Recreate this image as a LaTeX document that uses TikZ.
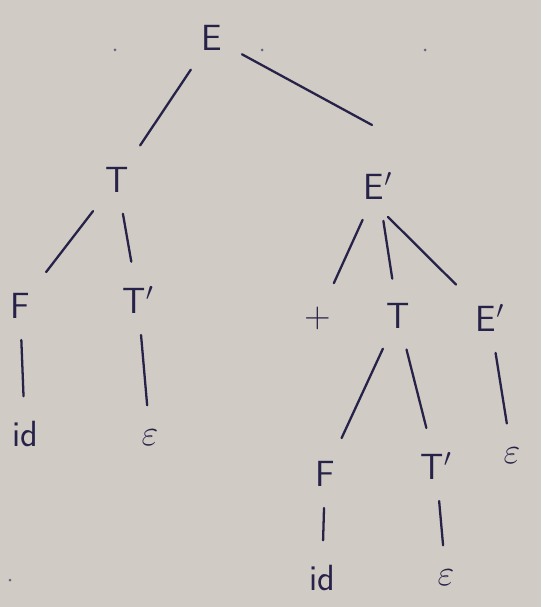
\documentclass[tikz,border=0pt]{standalone}
\usepackage{tikz}
\usetikzlibrary{positioning}
\definecolor{paper}{RGB}{208,203,197}
\definecolor{ink}{RGB}{38,34,72}

\begin{document}
\begin{tikzpicture}[x=0.02cm, y=-0.02cm, every node/.style={font=\huge\sffamily, text=ink, inner sep=4pt},
  edge/.style={draw=ink, line width=1.3pt, line cap=round, shorten <=8pt, shorten >=10pt}]
      \fill[paper] (0,0) rectangle (541,607);
      \useasboundingbox (0,0) rectangle (541,607);
      % stray dots on the page
      \fill[ink!70] (115,50) circle (1.5) (262,50) circle (1.5) (425,50) circle (1.5) (10,580) circle (1.5);
      % level 0 and 1
      \node (e) at (212,38) {E};
      \node (t) at (117,180) {T};
      \node (ep) at (378,186) {E$'$};
      \coordinate (ep-in) at (372,125);
      % level 2
      \node (f) at (20,306) {F};
      \node (tp) at (138,300) {T$'$};
      \node (plus) at (318,318) {+};
      \node (t2) at (398,316) {T};
      \node (ep2) at (490,318) {E$'$};
      % level 3
      \node (id) at (25,434) {id};
      \node (eps) at (150,438) {$\varepsilon$};
      \node (f2) at (325,474) {F};
      \node (tp2) at (436,466) {T$'$};
      \node (eps2) at (512,456) {$\varepsilon$};
      % level 4
      \node (id2) at (322,578) {id};
      \node (eps3) at (446,578) {$\varepsilon$};
      \draw[edge] (e) -- (t);
      \draw[edge, shorten >=0pt] (e) -- (ep-in);
      \draw[edge] (t) -- (f);
      \draw[edge] (t) -- (tp);
      \draw[edge] (f) -- (id);
      \draw[edge] (tp) -- (eps);
      \draw[edge] (ep) -- (plus);
      \draw[edge] (ep) -- (t2);
      \draw[edge] (ep.south) -- (ep2.north west);
      \draw[edge] (t2) -- (f2);
      \draw[edge] (t2) -- (tp2);
      \draw[edge] (ep2) -- (eps2);
      \draw[edge] (f2) -- (id2);
      \draw[edge] (tp2) -- (eps3);
\end{tikzpicture}
\end{document}
